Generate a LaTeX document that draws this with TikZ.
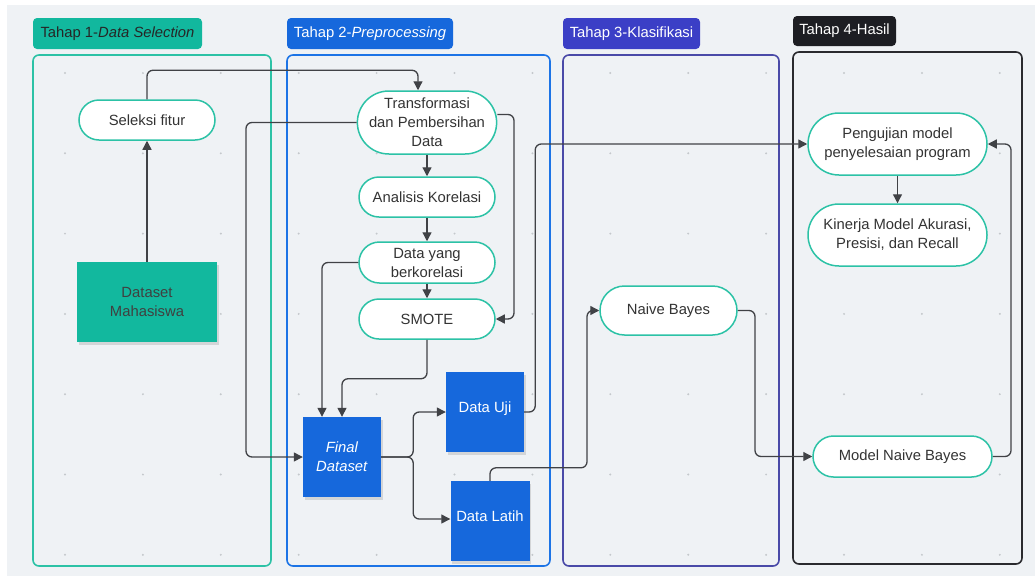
\documentclass[tikz,border=0pt]{standalone}
\usepackage{fontspec}
\setmainfont{Liberation Sans}
\usetikzlibrary{arrows.meta,shapes.misc,shadows,calc}
\definecolor{bg}{HTML}{EFF2F5}
\definecolor{tealc}{HTML}{2CC2A6}
\definecolor{tealfill}{HTML}{12B89E}
\definecolor{bluec}{HTML}{1C74E6}
\definecolor{bluefill}{HTML}{1668DC}
\definecolor{indigoc}{HTML}{4A4AA8}
\definecolor{indigofill}{HTML}{3B3FC6}
\definecolor{darkc}{HTML}{2A2A2E}
\definecolor{darkfill}{HTML}{1D1E23}
\definecolor{linec}{HTML}{404246}
\definecolor{txt}{HTML}{333333}
\definecolor{dotc}{HTML}{C4C8CC}
\begin{document}
\begin{tikzpicture}[x=1pt,y=-1pt,
  font=\fontsize{14.8}{19}\selectfont,
  panel/.style={line width=1.6pt, rounded corners=6pt},
  tag/.style={rounded corners=4pt, minimum height=31pt, inner sep=0pt, anchor=center},
  pill/.style={draw=tealc, line width=1.5pt, fill=white, rounded rectangle, inner sep=0pt, text=txt, align=center},
  note/.style={fill=bluefill, inner sep=0pt, text=white, align=center, minimum width=78pt, minimum height=80pt,
     drop shadow={shadow xshift=1.5pt, shadow yshift=-2.5pt, opacity=0.25}},
  arr/.style={draw=linec, line width=1.3pt, rounded corners=6pt, -{Triangle[length=9pt,width=9pt]}},
  ln/.style={draw=linec, line width=1.3pt, rounded corners=6pt}
]
\useasboundingbox (0,0) rectangle (1035,576);
\fill[white] (0,0) rectangle (1035,576);
\fill[bg] (7,5) rectangle (1035,576);
% dots
\foreach \i in {0,...,12}{
  \foreach \j in {0,...,6}{
    \fill[dotc] ({65+77.9*\i},{73+80.3*\j}) circle (1.1pt);
  }
}
% panels
\draw[panel, draw=tealc] (33,55) rectangle (271,566);
\draw[panel, draw=bluec] (287,55) rectangle (550,566);
\draw[panel, draw=indigoc] (563,55) rectangle (779,566);
\draw[panel, draw=darkc] (793,52) rectangle (1022,564);
% tags
\node[tag, fill=tealfill, minimum width=169pt, text=black!85] (t1) at (117.5,33.5) {Tahap 1-\textit{Data Selection}};
\node[tag, fill=bluefill, minimum width=166pt, text=white] (t2) at (370,33.5) {Tahap 2-\textit{Preprocessing}};
\node[tag, fill=indigofill, minimum width=137pt, text=white] (t3) at (631.5,33.5) {Tahap 3-Klasifikasi};
\node[tag, fill=darkfill, minimum width=103pt, minimum height=30pt, text=white] (t4) at (844.5,31) {Tahap 4-Hasil};
% nodes
\node[pill, minimum width=136pt, minimum height=40pt] (sel) at (147,120) {Seleksi fitur};
\node[fill=tealfill, minimum width=140pt, minimum height=80pt, inner sep=0pt, text=black!75, align=center,
  drop shadow={shadow xshift=1.5pt, shadow yshift=-2.5pt, opacity=0.25}] (ds) at (147,302) {Dataset\\Mahasiswa};
\node[pill, minimum width=136pt, minimum height=63pt] (tr) at (427,122.5) {Transformasi\\dan Pembersihan\\Data};
\node[pill, minimum width=136pt, minimum height=40pt] (ak) at (427,197) {Analisis Korelasi};
\node[pill, minimum width=136pt, minimum height=41pt] (dy) at (427,262.5) {Data yang\\berkorelasi};
\node[pill, minimum width=136pt, minimum height=40pt] (sm) at (427,319) {SMOTE};
\node[note] (fd) at (342,457) {\textit{Final}\\\textit{Dataset}};
\node[note, text depth=10pt] (du) at (485,412) {Data Uji};
\node[note, minimum width=79pt, text depth=10pt] (dl) at (490,521) {Data Latih};
\node[pill, minimum width=137pt, minimum height=49pt] (nb) at (668.5,310.5) {Naive Bayes};
\node[pill, minimum width=179pt, minimum height=62pt] (pm) at (897.5,144) {Pengujian model\\penyelesaian program};
\node[pill, minimum width=179pt, minimum height=62pt] (km) at (897.5,235) {Kinerja Model Akurasi,\\Presisi, dan Recall};
\node[pill, minimum width=179pt, minimum height=41pt] (mn) at (902.5,456.5) {Model Naive Bayes};
% connectors
\draw[arr] (ds.north) -- (sel.south);
\draw[arr] (sel.north) |- ($(tr.north)+(-9,-20)$) -- ($(tr.north)+(-9,0)$);
\draw[arr] (tr.south) -- (ak.north);
\draw[arr] (ak.south) -- (dy.north);
\draw[arr] (dy.south) -- (sm.north);
\draw[arr] (tr.west) -| (246,300) |- (fd.west);
\draw[arr] ($(tr.east)+(0,-8)$) -| (514,250) |- (sm.east);
\draw[arr] (dy.west) -| ($(fd.north)+(-20,0)$);
\draw[arr] (sm.south) -- ++(0,39) -| (fd.north);
\draw[arr] (fd.east) -- ++(32,0) |- (du.west);
\draw[arr] (fd.east) -- ++(32,0) |- ($(dl.west)+(0,-2)$);
\draw[arr] (du.east) -- ++(11,0) |- (pm.west);
\draw[arr] (dl.north) -- ++(0,-13) -| (587,400) |- (nb.west);
\draw[arr] (nb.east) -| (755,400) |- (mn.west);
\draw[arr] (mn.east) -| (1011,300) |- (pm.east);
\draw[arr] (pm.south) -- (km.north);
\end{tikzpicture}
\end{document}
